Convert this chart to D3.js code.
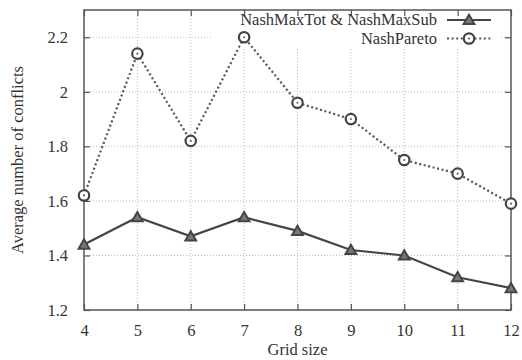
<!DOCTYPE html>
<html><head><meta charset="utf-8">
<script src="https://cdn.jsdelivr.net/npm/d3@7"></script>
<style>body{margin:0;background:#fff}svg{display:block}
svg text{font-family:'Liberation Serif','Times New Roman',Times,serif !important;font-size:16.5px;fill:#333}</style>
</head><body><svg id="c" width="522" height="360"></svg>
<script>
const gridSizes = [4,5,6,7,8,9,10,11,12];
const nashMaxTot = [1.44,1.54,1.47,1.54,1.49,1.42,1.40,1.32,1.28];
const nashPareto = [1.62,2.14,1.82,2.20,1.96,1.90,1.75,1.70,1.59];
const yTicks = [1.2,1.4,1.6,1.8,2,2.2];
const seriesNames = ["NashMaxTot & NashMaxSub","NashPareto"];

const svg = d3.select("#c");
const L=84, R=511, T=10, B=310;
const x = d3.scaleLinear().domain([4,12]).range([L,R]);
const y = d3.scaleLinear().domain([1.2,2.3]).range([B,T]);
const axisCol = "#555";

// grid
const grid = svg.append("g");
grid.selectAll("line.gx").data(gridSizes.slice(1,-1)).enter().append("line")
  .attr("x1",d=>x(d)).attr("x2",d=>x(d)).attr("y1",T).attr("y2",B)
  .attr("stroke","#bbb").attr("stroke-width",1).attr("stroke-dasharray","1,2");
grid.selectAll("line.gy").data(yTicks.slice(1)).enter().append("line")
  .attr("x1",L).attr("x2",R).attr("y1",d=>y(d)).attr("y2",d=>y(d))
  .attr("stroke","#bbb").attr("stroke-width",1).attr("stroke-dasharray","1,2");

// legend background (hides grid)
svg.append("rect").attr("x",212).attr("y",T+1).attr("width",289).attr("height",36).attr("fill","#fff");

// axes via d3
const ax = (g)=>{g.selectAll(".domain").remove(); g.attr("font-family",null).attr("font-size",null); g.selectAll("line").attr("stroke",axisCol).attr("stroke-width",1.2);};
svg.append("g").attr("transform",`translate(0,${B})`)
  .call(d3.axisBottom(x).tickValues(gridSizes).tickSize(-6).tickPadding(14).tickFormat(d3.format("d"))).call(ax);
svg.append("g").attr("transform",`translate(0,${T})`)
  .call(d3.axisTop(x).tickValues(gridSizes).tickSize(-6).tickFormat("")).call(ax);
svg.append("g").attr("transform",`translate(${L},0)`)
  .call(d3.axisLeft(y).tickValues(yTicks).tickSize(-6).tickPadding(16).tickFormat(d=>String(+d.toFixed(1)))).call(ax);
svg.append("g").attr("transform",`translate(${R},0)`)
  .call(d3.axisRight(y).tickValues(yTicks).tickSize(-6).tickFormat("")).call(ax);

// frame
svg.append("rect").attr("x",L).attr("y",T).attr("width",R-L).attr("height",B-T)
  .attr("fill","none").attr("stroke",axisCol).attr("stroke-width",1.5);

// series
const line = d3.line().x((d,i)=>x(gridSizes[i])).y(d=>y(d));
const lineCol = "#454545";
svg.append("path").datum(nashPareto).attr("d",line).attr("fill","none")
  .attr("stroke","#555").attr("stroke-width",2.2).attr("stroke-dasharray","2,2.6");
svg.append("path").datum(nashMaxTot).attr("d",line).attr("fill","none")
  .attr("stroke",lineCol).attr("stroke-width",2.2);

const tri = d3.symbol().type(d3.symbolTriangle).size(50);
function triMark(g,cx,cy){g.append("path").attr("d",tri()).attr("transform",`translate(${cx},${cy+1})`)
  .attr("fill","#777").attr("stroke",lineCol).attr("stroke-width",2);}
function circMark(g,cx,cy){g.append("circle").attr("cx",cx).attr("cy",cy).attr("r",5.2).attr("fill","#fff").attr("stroke","#444").attr("stroke-width",2.2);
  g.append("circle").attr("cx",cx).attr("cy",cy).attr("r",1.1).attr("fill","#666");}
const mk = svg.append("g");
nashMaxTot.forEach((v,i)=>triMark(mk,x(gridSizes[i]),y(v)));
nashPareto.forEach((v,i)=>circMark(mk,x(gridSizes[i]),y(v)));

// legend
const lg = svg.append("g");
lg.append("text").attr("x",437).attr("y",25).attr("text-anchor","end").text(seriesNames[0]);
lg.append("text").attr("x",437).attr("y",43.6).attr("text-anchor","end").text(seriesNames[1]);
lg.append("line").attr("x1",447).attr("x2",491).attr("y1",20).attr("y2",20).attr("stroke",lineCol).attr("stroke-width",2.2);
triMark(lg,469,20);
lg.append("line").attr("x1",447).attr("x2",491).attr("y1",38.5).attr("y2",38.5).attr("stroke","#555").attr("stroke-width",2.2).attr("stroke-dasharray","2,2.6");
circMark(lg,469,38.5);

// axis titles
svg.append("text").attr("x",(L+R)/2).attr("y",355).attr("text-anchor","middle").text("Grid size");
svg.append("text").attr("transform",`translate(23,${(T+B)/2}) rotate(-90)`).attr("text-anchor","middle").text("Average number of conflicts");
</script></body></html>
